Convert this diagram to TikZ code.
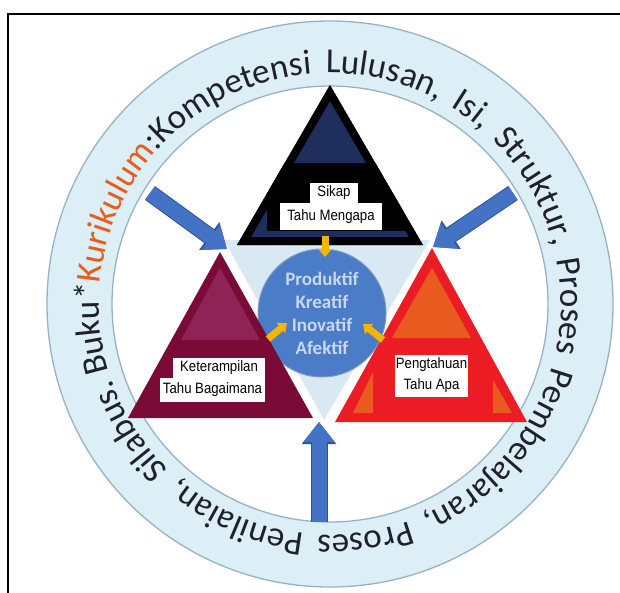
\documentclass[tikz,border=0pt]{standalone}
\usepackage{fontspec}
\setmainfont{Carlito}
\newfontfamily\labelfont[FakeStretch=0.88]{Liberation Sans}
\usetikzlibrary{arrows.meta, decorations.text}

\definecolor{ringblue}{RGB}{220,238,246}
\definecolor{ringedge}{RGB}{150,178,200}
\definecolor{ringtext}{RGB}{32,32,42}
\definecolor{kurorange}{RGB}{232,92,30}
\definecolor{hubblue}{RGB}{216,233,243}
\definecolor{coreblue}{RGB}{74,124,199}
\definecolor{coretext}{RGB}{200,216,238}
\definecolor{arrowblue}{RGB}{68,114,196}
\definecolor{arrowedge}{RGB}{46,85,151}
\definecolor{arrowyellow}{RGB}{245,180,0}
\definecolor{sikapnavy}{RGB}{31,46,92}
\definecolor{ketmaroon}{RGB}{122,10,54}
\definecolor{ketplum}{RGB}{142,35,86}
\definecolor{pengred}{RGB}{236,28,36}
\definecolor{pengorange}{RGB}{232,90,30}

\tikzstyle{boxlabel} = [rectangle, fill=white, inner sep=0pt, text=black, font=\labelfont\fontsize{15}{15}\selectfont]
\tikzstyle{core} = [circle, minimum size=128pt, inner sep=0pt, fill=coreblue, draw=arrowedge!60, line width=1pt, align=center, text=coretext, font=\bfseries\fontsize{19}{23}\selectfont]
\tikzstyle{bigarrow} = [line width=15pt, draw=arrowblue, -{Triangle[length=20pt,width=30pt]}, preaction={draw=arrowedge, line width=17pt, -{Triangle[length=22pt,width=33pt]}}]
\tikzstyle{smallarrow} = [line width=7pt, draw=arrowyellow, -{Triangle[length=8pt,width=13pt]}]

\begin{document}
\begin{tikzpicture}[x=1pt, y=1pt]
\useasboundingbox (0,0) rectangle (620,-592);

% frame
\draw[line width=1.6pt] (624,-14) -- (8,-14) -- (8,-596);

% ring with the running title
\coordinate (ringc) at (330,-304);
\fill[ringblue, even odd rule] (ringc) circle (283) (ringc) circle (218);
\draw[ringedge, line width=1.3pt] (ringc) circle (283);
\draw[ringedge, line width=1.3pt] (ringc) circle (218);
\path[decorate, decoration={text along path, text align={fit to path stretching spaces},
  text={|\fontsize{35}{35}\selectfont\color{ringtext}|Buku*|\fontsize{35}{35}\selectfont\color{kurorange}|Kurikulum|\fontsize{35}{35}\selectfont\color{ringtext}|:Kompetensi Lulusan, Isi, Struktur, Proses Pembelajaran, Proses Penilaian, Silabus.}}]
  ([shift={(330,-304)}]197:231) arc[start angle=197, end angle=-161, radius=231];

% corners of the three triangles
\coordinate (sikapTop) at (330,-85);
\coordinate (sikapL) at (237,-245);
\coordinate (sikapR) at (423,-245);
\coordinate (ketTop) at (220,-252);
\coordinate (ketL) at (128,-418);
\coordinate (ketR) at (313,-418);
\coordinate (pengTop) at (432,-248);
\coordinate (pengL) at (335,-422);
\coordinate (pengR) at (527,-422);

% light middle between the triangles
\coordinate (hubL) at (224,-240);
\coordinate (hubR) at (430,-240);
\coordinate (hubB) at (324,-420);
\fill[hubblue] (hubL) -- (hubR) -- (hubB) -- cycle;

\node (inti) [core] at (322,-313) {Produktif\\Kreatif\\Inovatif\\Afektif};

% Sikap
\begin{scope}
\clip (sikapTop) -- (sikapL) -- (sikapR) -- cycle;
\fill[sikapnavy] (sikapTop) -- (sikapL) -- (sikapR) -- cycle;
\fill[black] (267,-163) rectangle (405,-231);
\draw[black, line width=16pt] (sikapTop) -- (sikapL) -- (sikapR) -- cycle;
\end{scope}

% Keterampilan
\fill[ketmaroon] (ketTop) -- (ketL) -- (ketR) -- cycle;
\fill[ketplum] (220,-268) -- (181,-340) -- (260,-340) -- cycle;

% Pengetahuan
\fill[pengred] (pengTop) -- (pengL) -- (pengR) -- cycle;
\fill[pengorange] (432,-268) -- (392,-338) -- (471,-338) -- cycle;
\fill[pengorange] (353,-413) -- (373,-413) -- (373,-372) -- cycle;
\fill[pengorange] (493,-380) -- (493,-413) -- (512,-413) -- cycle;

\node (sikap) [boxlabel, minimum width=48pt, minimum height=20pt] at (334,-193) {Sikap};
\node (sikapSub) [boxlabel, minimum width=102pt, minimum height=27pt] at (331,-216.5) {Tahu Mengapa};
\node (ket) [boxlabel, minimum width=92pt, minimum height=20pt] at (219,-368) {Keterampilan};
\node (ketSub) [boxlabel, minimum width=105pt, minimum height=24pt] at (212.5,-390) {Tahu Bagaimana};
\node (peng) [boxlabel, minimum width=73pt, minimum height=21pt] at (431.5,-365) {Pengtahuan};
\node (pengSub) [boxlabel, minimum width=73pt, minimum height=22pt] at (431.5,-386) {Tahu Apa};

% arrows
\coordinate (feedL) at (150,-193);
\coordinate (feedR) at (513,-193);
\coordinate (feedB) at (319,-522);
\coordinate (ketIn) at (227,-249);
\coordinate (pengIn) at (433,-247);
\coordinate (hubIn) at (319,-422);
\draw[bigarrow] (feedL) -- (ketIn);
\draw[bigarrow] (feedR) -- (pengIn);
\draw[bigarrow] (feedB) -- (hubIn);

\draw[smallarrow] (325,-236) -- (325,-257);
\draw[smallarrow] (268,-339) -- (287,-323);
\draw[smallarrow] (383,-340) -- (363,-324);

\end{tikzpicture}
\end{document}
